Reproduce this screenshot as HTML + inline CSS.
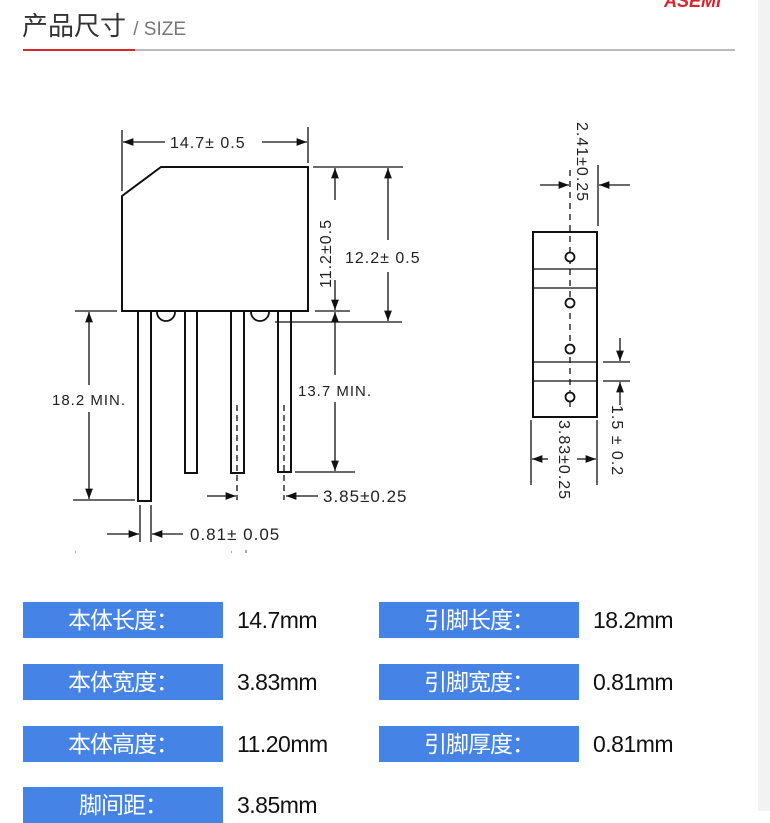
<!DOCTYPE html>
<html><head><meta charset="utf-8"><style>
body{margin:0;width:770px;height:811px;overflow:hidden;background:#fff;font-family:"Liberation Sans","Noto Sans CJK SC",sans-serif;position:relative}
.strip{position:absolute;left:758px;top:0;width:12px;height:811px;background:#f2f2f2}
.title{position:absolute;left:22px;top:6px;font-size:26px;color:#333}
.title span{font-size:19px;color:#777}
.logo{position:absolute;left:664px;top:-9px;font:italic bold 18px "Liberation Sans",sans-serif;color:#d9262c;letter-spacing:0px}
.line{position:absolute;left:23px;top:49px;width:712px;height:2px;background:#bbb}
.red{position:absolute;left:23px;top:49px;width:112px;height:2px;background:#d9262c}
.b{position:absolute;width:200px;height:36px;background:#4583e6;color:#fff;font-size:23px;line-height:36px;text-align:center;letter-spacing:-1px}
.v{position:absolute;font-size:23px;color:#111;line-height:36px;letter-spacing:-0.5px}
svg text{font-family:"Liberation Sans",sans-serif;fill:#222;letter-spacing:1px}
</style></head><body>
<div class="strip"></div>
<div class="title">产品尺寸 <span>/ SIZE</span></div>
<div class="logo">ASEMI</div>
<div class="line"></div><div class="red"></div>
<svg width="770" height="590" style="position:absolute;left:0;top:0" stroke="#111" fill="none" stroke-width="1.3">
<defs><marker id="a" markerWidth="8" markerHeight="6" refX="8" refY="3" orient="auto"><path d="M0,0L8,3L0,6z" fill="#111" stroke="none"/></marker></defs>
<path d="M122,196L161,167H308V311H122Z" stroke-width="2"/>
<line x1="122" y1="130" x2="122" y2="191"/><line x1="308" y1="127" x2="308" y2="163"/>
<line x1="165" y1="142" x2="123" y2="142" marker-end="url(#a)"/><line x1="262" y1="142" x2="307" y2="142" marker-end="url(#a)"/>
<text x="170" y="148" font-size="16" stroke="none">14.7± 0.5</text>
<line x1="313" y1="167" x2="403" y2="167"/><line x1="315" y1="311" x2="350" y2="311"/><line x1="275" y1="322" x2="402" y2="322"/>
<line x1="335" y1="200" x2="335" y2="168" marker-end="url(#a)"/><line x1="335" y1="280" x2="335" y2="310" marker-end="url(#a)"/>
<text transform="translate(331,288) rotate(-90)" font-size="16" stroke="none">11.2±0.5</text>
<line x1="388" y1="240" x2="388" y2="168" marker-end="url(#a)"/><line x1="388" y1="272" x2="388" y2="321" marker-end="url(#a)"/>
<text x="345" y="263" font-size="16" stroke="none">12.2± 0.5</text>
<line x1="335" y1="375" x2="335" y2="312" marker-end="url(#a)"/><line x1="335" y1="402" x2="335" y2="471" marker-end="url(#a)"/>
<line x1="295" y1="472" x2="355" y2="472"/>
<text x="298" y="396" font-size="15" stroke="none">13.7 MIN.</text>
<rect x="138" y="311" width="13" height="190" stroke-width="2"/>
<rect x="185" y="311" width="12" height="162" stroke-width="2"/>
<rect x="231" y="311" width="13" height="162" stroke-width="2"/>
<rect x="278" y="311" width="13" height="161" stroke-width="2"/>
<path d="M157,312A8,8 0 0 0 175,312" stroke-width="1.8"/><path d="M251,312A8,8 0 0 0 269,312" stroke-width="1.8"/>
<line x1="237" y1="405" x2="237" y2="500" stroke-dasharray="6,4"/><line x1="284" y1="405" x2="284" y2="500" stroke-dasharray="6,4"/>
<line x1="75" y1="311" x2="117" y2="311"/><line x1="73" y1="500" x2="135" y2="500"/>
<line x1="89" y1="385" x2="89" y2="312" marker-end="url(#a)"/><line x1="89" y1="412" x2="89" y2="499" marker-end="url(#a)"/>
<text x="52" y="405" font-size="15" stroke="none">18.2 MIN.</text>
<line x1="207" y1="496" x2="236" y2="496" marker-end="url(#a)"/><line x1="318" y1="496" x2="286" y2="496" marker-end="url(#a)"/>
<text x="323" y="502" font-size="17" stroke="none">3.85±0.25</text>
<line x1="140" y1="505" x2="140" y2="542"/><line x1="151" y1="505" x2="151" y2="542"/>
<line x1="107" y1="534" x2="139" y2="534" marker-end="url(#a)"/><line x1="183" y1="534" x2="152" y2="534" marker-end="url(#a)"/>
<text x="190" y="540" font-size="17" stroke="none">0.81± 0.05</text>
<rect x="533" y="232" width="64" height="185" stroke-width="2"/>
<line x1="533" y1="269" x2="597" y2="269"/><line x1="533" y1="288" x2="597" y2="288"/>
<line x1="533" y1="362" x2="597" y2="362"/><line x1="533" y1="381" x2="597" y2="381"/>
<line x1="570" y1="170" x2="570" y2="410" stroke-dasharray="6,5"/>
<circle cx="570" cy="257" r="4.5" fill="#fff" stroke-width="1.8"/><circle cx="570" cy="303" r="4.5" fill="#fff" stroke-width="1.8"/>
<circle cx="570" cy="349" r="4.5" fill="#fff" stroke-width="1.8"/><circle cx="570" cy="397" r="4.5" fill="#fff" stroke-width="1.8"/>
<line x1="598" y1="165" x2="598" y2="226"/>
<line x1="540" y1="185" x2="569" y2="185" marker-end="url(#a)"/><line x1="630" y1="185" x2="599" y2="185" marker-end="url(#a)"/>
<text transform="translate(577,122) rotate(90)" font-size="16" stroke="none">2.41±0.25</text>
<line x1="603" y1="362" x2="630" y2="362"/><line x1="603" y1="381" x2="630" y2="381"/>
<line x1="620" y1="338" x2="620" y2="361" marker-end="url(#a)"/><line x1="620" y1="405" x2="620" y2="382" marker-end="url(#a)"/>
<text transform="translate(612,405) rotate(90)" font-size="16" stroke="none">1.5 ± 0.2</text>
<line x1="531" y1="420" x2="531" y2="485"/><line x1="597" y1="420" x2="597" y2="485"/>
<line x1="548" y1="459" x2="532" y2="459" marker-end="url(#a)"/><line x1="577" y1="459" x2="596" y2="459" marker-end="url(#a)"/>
<text transform="translate(559,420) rotate(90)" font-size="16" stroke="none">3.83±0.25</text>
<g stroke="#777"><line x1="75" y1="552" x2="76" y2="552"/><line x1="231" y1="552" x2="232" y2="552"/><line x1="246" y1="550" x2="246" y2="553"/></g>
</svg>
<div class="b" style="left:23px;top:602px">本体长度：</div><div class="v" style="left:237px;top:602px">14.7mm</div>
<div class="b" style="left:379px;top:602px">引脚长度：</div><div class="v" style="left:593px;top:602px">18.2mm</div>
<div class="b" style="left:23px;top:664px">本体宽度：</div><div class="v" style="left:237px;top:664px">3.83mm</div>
<div class="b" style="left:379px;top:664px">引脚宽度：</div><div class="v" style="left:593px;top:664px">0.81mm</div>
<div class="b" style="left:23px;top:726px">本体高度：</div><div class="v" style="left:237px;top:726px">11.20mm</div>
<div class="b" style="left:379px;top:726px">引脚厚度：</div><div class="v" style="left:593px;top:726px">0.81mm</div>
<div class="b" style="left:23px;top:787px">脚间距：</div><div class="v" style="left:237px;top:787px">3.85mm</div>
</body></html>
